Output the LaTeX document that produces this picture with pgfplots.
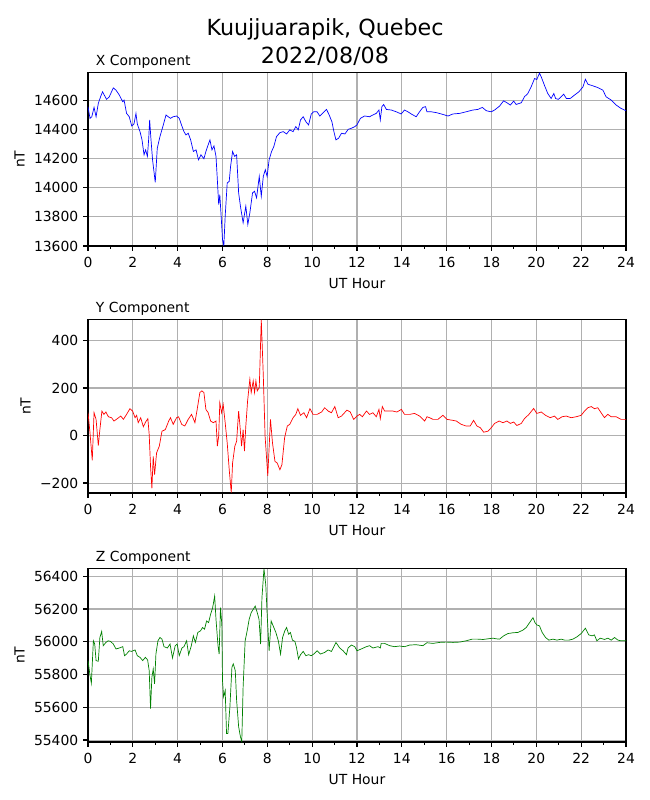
\documentclass[border=0pt]{standalone}
\usepackage{pgfplots}
\pgfplotsset{compat=1.18}
\usepackage{fontspec}
\setmainfont{DejaVu Sans}
\definecolor{gridgray}{HTML}{B0B0B0}
\definecolor{mplgreen}{HTML}{008000}
\pgfplotsset{
  magbase/.style={
    scale only axis, width=387.36pt, height=125pt,
    anchor=south west,
    xmin=0, xmax=24,
    xtick={0,2,...,24},
    minor x tick num=1,
    grid=major,
    major grid style={gridgray, line width=0.75pt},
    axis line style={line width=0.8pt},
    every tick/.style={black, line width=0.8pt},
    tick align=outside,
    major tick length=3.5pt,
    minor tick length=2pt,
    xtick pos=bottom, ytick pos=left,
    font=\fontsize{10}{12}\selectfont,
    tick label style={font=\fontsize{10}{12}\selectfont},
    xticklabel style={yshift=-0.8pt},
    /pgf/number format/assume math mode=true,
    /pgf/number format/set thousands separator={},
    scaled y ticks=false,
    xlabel={UT Hour},
    xlabel style={yshift=-1.2pt},
    ylabel={nT},
    title style={at={(0,1)}, anchor=base west, xshift=2.2pt, yshift=-0.7pt, font=\fontsize{10}{12}\selectfont},
  }
}
\begin{document}
\begin{tikzpicture}
\useasboundingbox (0,0) rectangle (468pt,576pt);
\node[anchor=base, font=\fontsize{16}{19}\selectfont] at (234pt,550.2pt) {Kuujjuarapik, Quebec};
\node[anchor=base, font=\fontsize{16}{19}\selectfont] at (234pt,530.6pt) {2022/08/08};

\begin{axis}[magbase, at={(63.36pt,398.88pt)},
  ymin=13600, ymax=14790,
  ytick={13600,13800,14000,14200,14400,14600},
  title={X Component}]
\addplot[blue, line width=0.5pt] table {
0 14555
0.09 14475
0.17 14486
0.27 14550
0.36 14486
0.46 14577
0.56 14623
0.65 14657
0.71 14639
0.83 14605
0.95 14623
1.13 14684
1.25 14668
1.40 14634
1.55 14589
1.61 14600
1.72 14509
1.84 14486
1.95 14423
2.05 14436
2.14 14509
2.20 14436
2.32 14384
2.41 14327
2.50 14225
2.57 14259
2.65 14214
2.71 14339
2.75 14464
2.80 14350
2.88 14191
3.00 14036
3.09 14270
3.21 14350
3.36 14430
3.48 14498
3.58 14486
3.68 14475
3.80 14486
3.95 14491
4.07 14475
4.17 14430
4.28 14384
4.37 14361
4.47 14373
4.58 14327
4.70 14248
4.82 14259
4.93 14191
5.04 14225
5.17 14198
5.26 14248
5.36 14293
5.44 14327
5.53 14259
5.62 14286
5.71 14214
5.77 14054
5.83 13884
5.88 13952
5.94 13804
6.00 13645
6.06 13602
6.12 13804
6.21 14032
6.30 14043
6.36 14145
6.45 14248
6.54 14214
6.63 14225
6.72 13964
6.80 13873
6.92 13759
7.04 13873
7.13 13748
7.22 13827
7.34 13964
7.43 13975
7.52 13930
7.64 14077
7.73 13941
7.82 14077
7.91 14123
7.99 14077
8.08 14191
8.19 14248
8.29 14282
8.41 14350
8.56 14377
8.71 14384
8.86 14368
9.00 14396
9.15 14384
9.27 14418
9.38 14396
9.48 14464
9.60 14486
9.72 14452
9.84 14430
9.96 14505
10.07 14520
10.22 14520
10.34 14491
10.46 14509
10.64 14536
10.76 14498
10.88 14452
10.97 14384
11.06 14327
11.18 14339
11.31 14373
11.46 14368
11.61 14400
11.75 14407
11.90 14418
12.00 14430
12.15 14475
12.34 14491
12.56 14486
12.71 14498
12.86 14509
12.98 14532
13.04 14464
13.11 14555
13.19 14570
13.31 14536
13.53 14532
13.75 14520
13.97 14505
14.12 14532
14.27 14520
14.42 14505
14.64 14486
14.79 14520
14.94 14550
15.06 14555
15.12 14520
15.31 14520
15.54 14514
15.76 14505
16.06 14491
16.28 14505
16.58 14509
16.87 14520
17.17 14532
17.39 14536
17.59 14550
17.77 14527
17.99 14520
18.14 14532
18.36 14559
18.54 14595
18.69 14582
18.84 14566
18.99 14593
19.10 14570
19.33 14582
19.47 14623
19.62 14645
19.77 14691
19.92 14748
20.02 14741
20.14 14785
20.22 14759
20.36 14702
20.51 14645
20.66 14611
20.78 14645
20.86 14611
20.98 14605
21.11 14623
21.22 14641
21.34 14611
21.51 14611
21.70 14634
21.90 14657
22.08 14691
22.19 14743
22.30 14709
22.52 14698
22.74 14686
22.97 14668
23.11 14623
23.34 14600
23.56 14566
23.78 14543
24.00 14527
};
\end{axis}

\begin{axis}[magbase, at={(63.36pt,221.04pt)},
  ymin=-242, ymax=489,
  ytick={-200,0,200,400},
  yticklabels={−200,0,200,400},
  title={Y Component}]
\addplot[red, line width=0.5pt] table {
0 96
0.09 11
0.19 -105
0.27 96
0.36 68
0.46 -42
0.53 25
0.62 103
0.71 89
0.80 99
0.91 79
1.05 75
1.16 61
1.31 71
1.46 82
1.58 68
1.72 89
1.87 113
1.99 103
2.10 75
2.17 85
2.24 54
2.35 75
2.47 37
2.57 57
2.67 71
2.73 4
2.79 -130
2.85 -222
2.91 -88
2.97 -165
3.06 -73
3.18 -45
3.30 18
3.45 25
3.60 61
3.68 75
3.80 47
3.95 75
4.04 79
4.18 47
4.32 40
4.47 68
4.62 89
4.77 54
4.87 110
4.99 181
5.08 188
5.17 181
5.26 110
5.36 96
5.47 61
5.59 54
5.71 61
5.77 -45
5.83 -3
5.88 138
5.96 96
6.03 131
6.12 54
6.21 -31
6.30 -144
6.39 -240
6.45 -116
6.55 -45
6.63 -24
6.72 103
6.78 40
6.85 -45
6.92 25
6.98 -66
7.04 40
7.12 146
7.22 237
7.28 181
7.37 230
7.43 181
7.49 230
7.55 188
7.64 202
7.73 487
7.82 252
7.90 -3
8.02 -170
8.14 68
8.23 -31
8.34 -109
8.44 -116
8.56 -144
8.65 -123
8.77 -10
8.89 40
9.00 47
9.15 75
9.27 89
9.36 113
9.48 85
9.63 96
9.75 75
9.90 113
10.04 89
10.22 89
10.42 99
10.56 117
10.71 103
10.86 96
11.01 122
11.16 75
11.31 82
11.55 107
11.70 99
11.85 68
12.00 82
12.12 89
12.24 79
12.42 103
12.56 89
12.71 96
12.86 79
12.98 110
13.04 71
13.13 122
13.23 103
13.38 103
13.60 103
13.78 99
13.98 110
14.12 89
14.35 89
14.57 93
14.79 82
15.02 61
15.12 79
15.24 75
15.39 68
15.61 68
15.83 85
16.01 68
16.21 65
16.43 61
16.65 47
16.87 40
17.05 40
17.20 64
17.35 40
17.50 33
17.65 14
17.84 18
17.99 33
18.14 51
18.34 61
18.51 54
18.69 61
18.84 51
18.99 57
19.13 42
19.33 51
19.47 71
19.67 89
19.88 114
20.02 93
20.22 99
20.41 85
20.62 75
20.81 82
20.96 68
21.15 79
21.33 82
21.55 75
21.78 79
22.00 85
22.15 103
22.30 117
22.45 122
22.59 113
22.74 117
22.89 96
23.04 75
23.19 89
23.34 79
23.56 79
23.78 68
24.00 68
};
\end{axis}

\begin{axis}[magbase, at={(63.36pt,41.76pt)},
  ymin=55388, ymax=56448,
  ytick={55400,55600,55800,56000,56200,56400},
  title={Z Component}]
\addplot[mplgreen, line width=0.5pt] table {
0 55885
0.09 55794
0.15 55747
0.24 56006
0.30 55986
0.36 55885
0.46 55881
0.53 56026
0.61 56063
0.68 55976
0.80 55996
0.90 56006
1.01 56002
1.13 55986
1.25 55956
1.40 55962
1.55 55970
1.63 55915
1.72 55925
1.84 55945
1.94 55941
2.10 55950
2.20 55915
2.32 55905
2.44 55885
2.56 55905
2.66 55889
2.73 55824
2.79 55592
2.85 55784
2.91 55834
2.97 55743
3.03 55925
3.12 56006
3.21 56026
3.30 56016
3.39 55970
3.54 55962
3.66 55986
3.77 55901
3.89 55976
3.98 55986
4.07 55915
4.19 55962
4.28 55970
4.40 56006
4.49 55921
4.61 55976
4.70 56036
4.79 55996
4.90 56057
5.02 56067
5.11 56087
5.20 56077
5.29 56127
5.38 56117
5.47 56168
5.56 56208
5.65 56279
5.71 56137
5.80 55976
5.85 55925
5.91 56208
5.97 56107
6.00 55764
6.05 55663
6.12 55703
6.18 55440
6.24 55440
6.33 55602
6.42 55844
6.48 55865
6.57 55824
6.63 55642
6.72 55481
6.80 55420
6.86 55392
6.92 55723
7.01 56006
7.10 56067
7.19 56137
7.28 56178
7.37 56198
7.46 56218
7.55 56178
7.63 56137
7.70 55986
7.76 56269
7.85 56445
7.93 56349
8.00 56147
8.08 55945
8.17 56127
8.29 56087
8.38 56057
8.49 56006
8.59 55925
8.68 56026
8.78 56067
8.86 56087
8.95 56046
9.03 56057
9.12 56010
9.23 56002
9.30 55966
9.39 55895
9.48 55921
9.60 55941
9.72 55915
9.84 55921
9.96 55915
10.07 55925
10.22 55945
10.37 55925
10.56 55935
10.71 55950
10.86 55941
11.06 55996
11.23 55962
11.38 55945
11.53 55921
11.60 55962
11.75 55980
11.90 55970
12.00 55945
12.19 55956
12.42 55970
12.56 55976
12.71 55962
12.94 55970
13.04 55962
13.08 55990
13.23 55990
13.46 55976
13.68 55970
13.90 55974
14.12 55970
14.35 55980
14.64 55982
14.94 55976
15.12 55994
15.39 55990
15.68 55996
15.98 55998
16.28 55996
16.58 55998
16.87 56006
17.14 56016
17.39 56016
17.62 56014
17.84 56018
18.06 56022
18.21 56018
18.36 56016
18.54 56036
18.73 56050
18.96 56055
19.18 56057
19.40 56071
19.55 56087
19.70 56117
19.85 56147
19.94 56117
20.02 56103
20.14 56097
20.26 56057
20.41 56026
20.56 56010
20.74 56016
20.92 56010
21.11 56016
21.26 56010
21.45 56010
21.63 56016
21.81 56030
22.00 56050
22.19 56083
22.34 56042
22.49 56036
22.59 56042
22.70 56006
22.85 56022
23.04 56014
23.19 56022
23.34 56010
23.49 56026
23.64 56010
23.78 56006
24.00 56006
};
\end{axis}
\end{tikzpicture}
\end{document}
